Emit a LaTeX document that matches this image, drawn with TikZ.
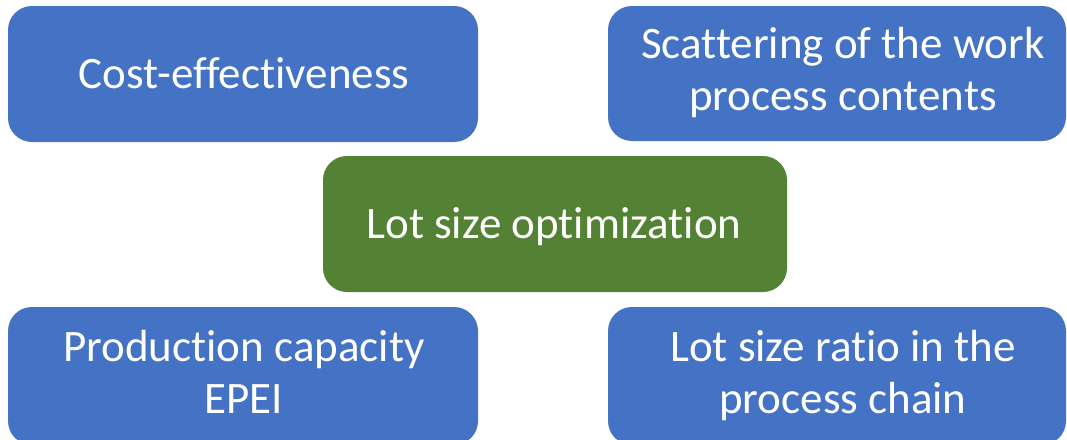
\documentclass[tikz,border=0pt]{standalone}
\usepackage{fontspec}
\setmainfont{Carlito}[Ligatures=NoCommon]
\definecolor{boxblue}{HTML}{4472C4}
\definecolor{boxgreen}{HTML}{548235}
\begin{document}
\begin{tikzpicture}[x=1pt,y=1pt,
  card/.style={rounded corners=24pt, fill=boxblue, draw=none, inner sep=0pt},
  core/.style={card, fill=boxgreen},
  caption/.style={text=white, align=center, inner sep=0pt, anchor=base,
    font=\fontsize{45}{52}\selectfont}]
\useasboundingbox (0,0) rectangle (1067,-439);
\clip (0,0) rectangle (1067,-439);
\node[card, minimum width=470pt, minimum height=136pt] (cost) at (243,-74) {};
\node[card, minimum width=458pt, minimum height=135pt] (scat) at (837,-73.5) {};
\node[core, minimum width=464pt, minimum height=136pt] (lot) at (555,-224) {};
\node[card, minimum width=470pt, minimum height=138pt] (prod) at (243,-376) {};
\node[card, minimum width=458pt, minimum height=138pt] (ratio) at (837,-376) {};
\node[caption] (costT) at (244,-88) {Cost-effectiveness};
\node[caption] (scatT) at (843,-110) {Scattering of the work\\process contents};
\node[caption] (lotT) at (554,-238.3) {Lot size optimization};
\node[caption] (prodT) at (244,-413.5) {Production capacity\\EPEI};
\node[caption] (ratioT) at (843,-413) {Lot size ratio in the\\process chain};
\end{tikzpicture}
\end{document}
